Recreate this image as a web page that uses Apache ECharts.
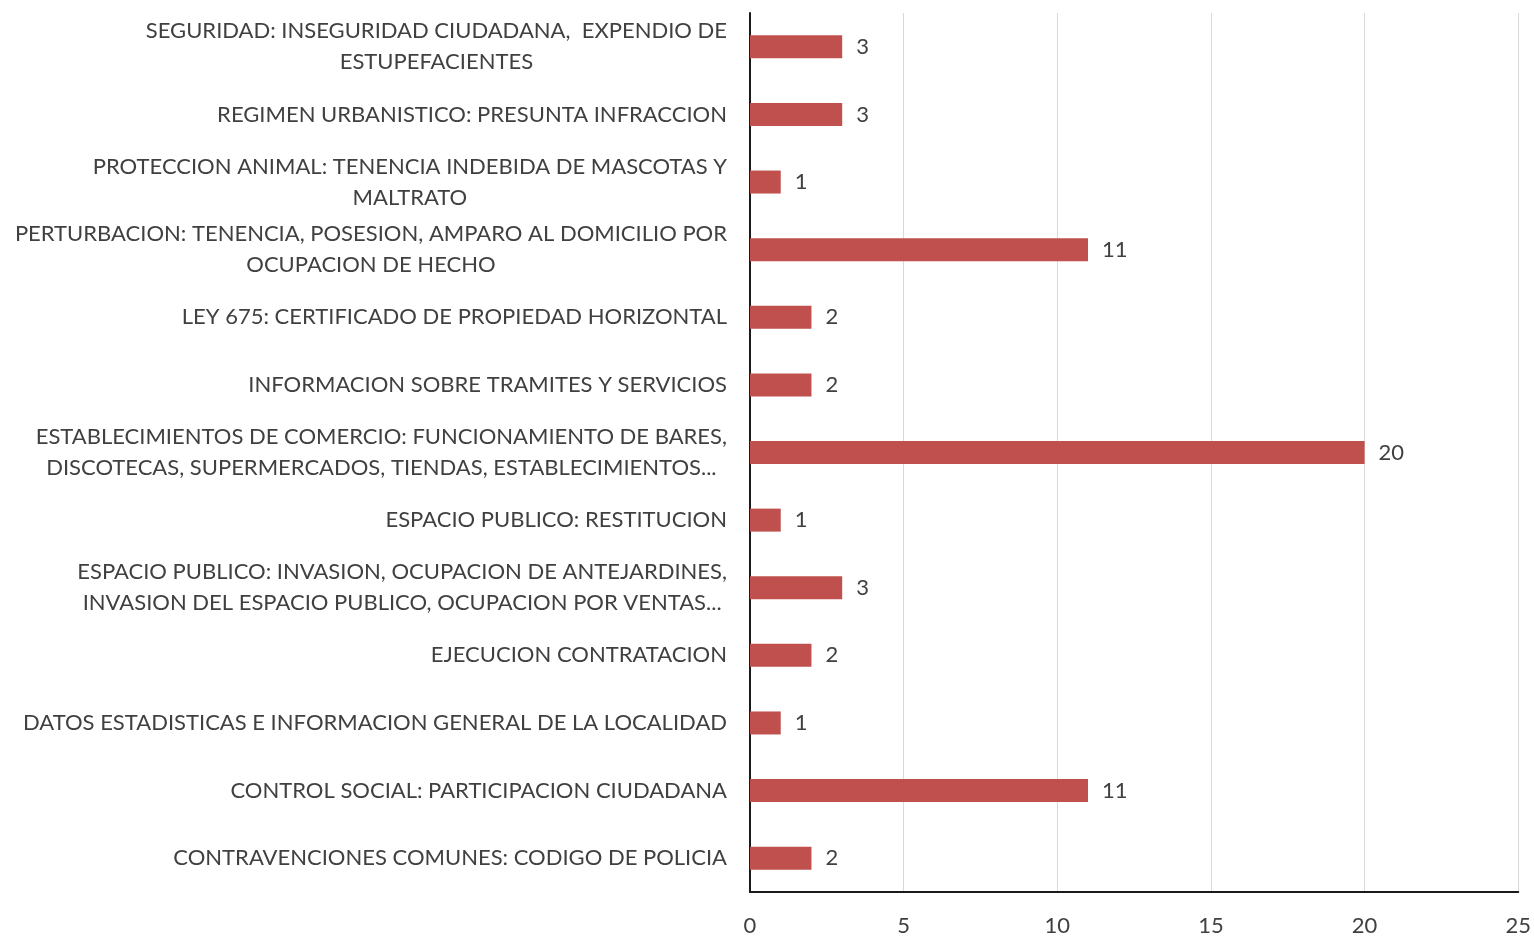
<!DOCTYPE html>
<html>
<head>
<meta charset="utf-8">
<script src="https://cdn.jsdelivr.net/npm/echarts@6/dist/echarts.min.js"></script>
<style>
  html, body { margin: 0; padding: 0; background: #fff; }
  #chart { width: 1534px; height: 937px; }
</style>
</head>
<body>
<div id="chart"></div>
<script>
// categories bottom -> top
var categorias = [
  'CONTRAVENCIONES COMUNES: CODIGO DE POLICIA',
  'CONTROL SOCIAL: PARTICIPACION CIUDADANA',
  'DATOS ESTADISTICAS E INFORMACION GENERAL DE LA LOCALIDAD',
  'EJECUCION CONTRATACION',
  'ESPACIO PUBLICO: INVASION, OCUPACION DE ANTEJARDINES,\nINVASION DEL ESPACIO PUBLICO, OCUPACION POR VENTAS...',
  'ESPACIO PUBLICO: RESTITUCION',
  'ESTABLECIMIENTOS DE COMERCIO: FUNCIONAMIENTO DE BARES,\nDISCOTECAS, SUPERMERCADOS, TIENDAS, ESTABLECIMIENTOS...',
  'INFORMACION SOBRE TRAMITES Y SERVICIOS',
  'LEY 675: CERTIFICADO DE PROPIEDAD HORIZONTAL',
  'PERTURBACION: TENENCIA, POSESION, AMPARO AL DOMICILIO POR\nOCUPACION DE HECHO',
  'PROTECCION ANIMAL: TENENCIA INDEBIDA DE MASCOTAS Y\nMALTRATO',
  'REGIMEN URBANISTICO: PRESUNTA INFRACCION',
  'SEGURIDAD: INSEGURIDAD CIUDADANA,  EXPENDIO DE\nESTUPEFACIENTES'
];
var valores = [2, 11, 1, 2, 3, 1, 20, 2, 2, 11, 1, 3, 3];

var fuente = 'Lato, "Liberation Sans", sans-serif';
var chart = echarts.init(document.getElementById('chart'));

chart.setOption({
  animation: false,
  grid: { left: 750, right: 14, top: 13, bottom: 45, containLabel: false },
  xAxis: {
    type: 'value',
    min: 0,
    max: 25,
    interval: 5,
    axisLine: { show: true, lineStyle: { color: '#1a1a1a', width: 2 } },
    axisTick: { show: false },
    axisLabel: { color: '#404040', fontSize: 22, fontFamily: fuente, margin: 23 },
    splitLine: { show: true, lineStyle: { color: '#d9d9d9', width: 1 } }
  },
  yAxis: {
    type: 'category',
    data: categorias,
    axisLine: { show: true, lineStyle: { color: '#1a1a1a', width: 2 } },
    axisTick: { show: false },
    axisLabel: {
      margin: 23,
      align: 'right',
      formatter: function (v) {
        return v.split('\n').map(function (l) { return '{c|' + l + '}'; }).join('\n');
      },
      rich: {
        c: { align: 'center', color: '#404040', fontSize: 22, fontFamily: fuente, lineHeight: 31 }
      }
    }
  },
  series: [{
    type: 'bar',
    data: valores,
    barWidth: 23,
    itemStyle: { color: '#c0504d' },
    label: {
      show: true,
      position: 'right',
      distance: 14,
      color: '#404040',
      fontSize: 22,
      fontFamily: fuente
    }
  }]
});
</script>
</body>
</html>
